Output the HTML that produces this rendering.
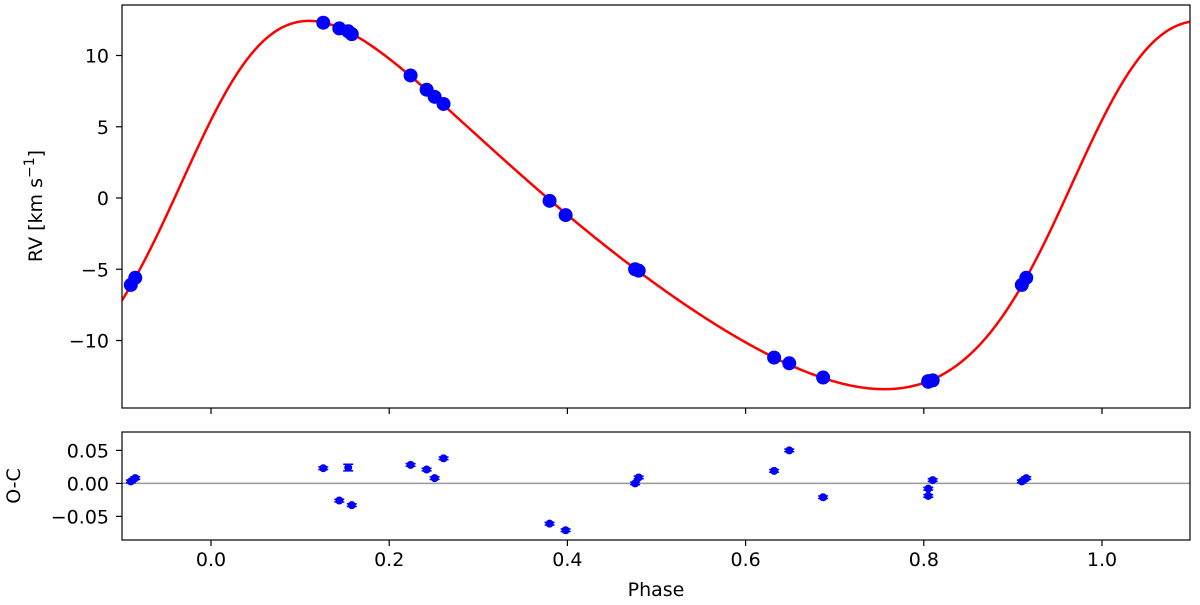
<!DOCTYPE html>
<html><head><meta charset="utf-8"><style>
body{margin:0;background:#fff}
svg text{font-family:"DejaVu Sans","Liberation Sans",sans-serif;fill:#000}
</style></head><body>
<svg id="chart" width="1200" height="600" xmlns="http://www.w3.org/2000/svg">
<g id="topPanel"></g>
<g id="botPanel"></g>
</svg>
<script>
const phases=[0.126,0.144,0.154,0.158,0.224,0.242,0.251,0.261,0.380,0.398,0.476,0.480,0.632,0.649,0.687,0.805,0.805,0.810,0.910,0.915];
const rvValues=[12.3,11.9,11.7,11.5,8.6,7.6,7.1,6.6,-0.2,-1.2,-5.0,-5.1,-11.2,-11.6,-12.6,-12.9,-12.85,-12.8,-6.1,-5.6];
const residPhases=[0.126,0.144,0.154,0.158,0.224,0.242,0.251,0.261,0.380,0.398,0.476,0.480,0.632,0.649,0.687,0.805,0.805,0.810,0.910,0.915];
const residuals=[0.023,-0.026,0.024,-0.033,0.028,0.021,0.008,0.038,-0.061,-0.071,0.000,0.009,0.019,0.050,-0.021,-0.008,-0.019,0.005,0.003,0.008];
const residErr=[0.002,0.002,0.005,0.002,0.002,0.002,0.002,0.002,0.002,0.002,0.002,0.002,0.002,0.002,0.002,0.002,0.002,0.002,0.002,0.002];
const xTicks=[0.0,0.2,0.4,0.6,0.8,1.0];
const xTickLabels=["0.0","0.2","0.4","0.6","0.8","1.0"];
const rvTicks=[10,5,0,-5,-10];
const rvTickLabels=["10","5","0","\u221210".slice(0,0)+"\u22125","\u221210"];
const resTicks=[0.05,0,-0.05];
const resTickLabels=["0.05","0.00","\u22120.05"];

const NS="http://www.w3.org/2000/svg";
const X0=122,X1=1190;
const xs=p=>211+p*891;
const ysTop=v=>198-v*14.25;
const ysBot=v=>483.4-v*660;
const TY0=5,TY1=408,BY0=432,BY1=540;
const FS=19;
function mk(par,tag,attrs){const e=document.createElementNS(NS,tag);for(const k in attrs)e.setAttribute(k,attrs[k]);par.appendChild(e);return e;}
const topG=document.getElementById('topPanel'),botG=document.getElementById('botPanel');

function shape(p,e,w,T){let M=2*Math.PI*(p-T);let E=M;for(let i=0;i<8;i++)E=E-(E-e*Math.sin(E)-M)/(1-e*Math.cos(E));
const nu=2*Math.atan2(Math.sqrt(1+e)*Math.sin(E/2),Math.sqrt(1-e)*Math.cos(E/2));return Math.cos(nu+w)+e*Math.cos(w);}
function fitLS(e,w,T){let n=phases.length,sf=0,sff=0,sy=0,sfy=0;const f=[];for(let i=0;i<n;i++){const s=shape(phases[i],e,w,T);f.push(s);sf+=s;sff+=s*s;sy+=rvValues[i];sfy+=s*rvValues[i];}
const d=n*sff-sf*sf;if(Math.abs(d)<1e-9)return null;const K=(n*sfy-sf*sy)/d,g=(sy-K*sf)/n;let r=0;for(let i=0;i<n;i++){const q=rvValues[i]-K*f[i]-g;r+=q*q;}return {K,g,r};}
let best={r:1e18,K:12.85,g:-1.28,e:0.22,w:285*Math.PI/180,T:0.97};
for(let e=0;e<=0.5;e+=0.025)for(let w=0;w<2*Math.PI;w+=Math.PI/30)for(let T=0;T<1;T+=0.01){const f=fitLS(e,w,T);if(f&&f.K>0&&f.r<best.r)best={r:f.r,K:f.K,g:f.g,e,w,T};}
let st=[0.0125,Math.PI/60,0.005];
for(let it=0;it<40;it++){let imp=false;for(const de of[-1,0,1])for(const dw of[-1,0,1])for(const dt of[-1,0,1]){const e=best.e+de*st[0],w=best.w+dw*st[1],T=best.T+dt*st[2];if(e<0||e>0.9)continue;const f=fitLS(e,w,T);if(f&&f.K>0&&f.r<best.r-1e-12){best={r:f.r,K:f.K,g:f.g,e,w,T};imp=true;}}if(!imp)st=st.map(s=>s/2);}

let d="";for(let i=0;i<=600;i++){const p=-0.1+1.2*i/600;const v=best.K*shape(p,best.e,best.w,best.T)+best.g;d+=(i?"L":"M")+xs(p).toFixed(2)+","+ysTop(v).toFixed(2);}
const cp=mk(topG,'clipPath',{id:'ct'});mk(cp,'rect',{x:X0,y:TY0,width:X1-X0,height:TY1-TY0});
const curve=mk(topG,'path',{d:d,fill:'none',stroke:'#ff0000','stroke-width':2.5,'clip-path':'url(#ct)'});


const ptsG=mk(topG,'g',{'clip-path':'url(#ct)'});
phases.forEach((p,i)=>{[p,p-1].forEach(pp=>{if(pp<-0.1||pp>1.1)return;const c=mk(ptsG,'circle',{cx:xs(pp),cy:ysTop(rvValues[i]),r:7,fill:'#0000ff'});

});});
const fr=mk(topG,'rect',{x:X0,y:TY0,width:X1-X0,height:TY1-TY0,fill:'none',stroke:'#000','stroke-width':1.2});


xTicks.forEach(t=>{mk(topG,'line',{x1:xs(t),x2:xs(t),y1:TY1,y2:TY1+6,stroke:'#000','stroke-width':1.2});});
rvTicks.forEach((t,i)=>{const y=ysTop(t);mk(topG,'line',{x1:X0-6,x2:X0,y1:y,y2:y,stroke:'#000','stroke-width':1.2});
const tx=mk(topG,'text',{x:X0-13,y:y+7,'text-anchor':'end','font-size':FS});tx.textContent=rvTickLabels[i];

});
const yl=mk(topG,'text',{transform:'translate(42,206) rotate(-90)','text-anchor':'middle','font-size':FS});
yl.innerHTML='RV [km s<tspan dy="-8" font-size="14">\u22121</tspan><tspan dy="8">]</tspan>';



const cb=mk(botG,'clipPath',{id:'cb'});mk(cb,'rect',{x:X0,y:BY0,width:X1-X0,height:BY1-BY0});
const zl=mk(botG,'line',{x1:X0,x2:X1,y1:ysBot(0),y2:ysBot(0),stroke:'#999','stroke-width':1.5});


const rg=mk(botG,'g',{'clip-path':'url(#cb)'});
residPhases.forEach((p,i)=>{[p,p-1].forEach(pp=>{if(pp<-0.1||pp>1.1)return;const x=xs(pp),y=ysBot(residuals[i]),e=residErr[i]*660;
mk(rg,'line',{x1:x,x2:x,y1:y-e,y2:y+e,stroke:'#0000ff','stroke-width':1.5});
mk(rg,'line',{x1:x-5,x2:x+5,y1:y-e,y2:y-e,stroke:'#0000ff','stroke-width':1.5});
mk(rg,'line',{x1:x-5,x2:x+5,y1:y+e,y2:y+e,stroke:'#0000ff','stroke-width':1.5});
const c=mk(rg,'circle',{cx:x,cy:y,r:4,fill:'#0000ff'});

});});
const fb=mk(botG,'rect',{x:X0,y:BY0,width:X1-X0,height:BY1-BY0,fill:'none',stroke:'#000','stroke-width':1.2});


xTicks.forEach((t,i)=>{const x=xs(t);mk(botG,'line',{x1:x,x2:x,y1:BY1,y2:BY1+6,stroke:'#000','stroke-width':1.2});
const tx=mk(botG,'text',{x:x,y:BY1+26,'text-anchor':'middle','font-size':FS});tx.textContent=xTickLabels[i];

});
resTicks.forEach((t,i)=>{const y=ysBot(t);mk(botG,'line',{x1:X0-6,x2:X0,y1:y,y2:y,stroke:'#000','stroke-width':1.2});
const tx=mk(botG,'text',{x:X0-13,y:y+7,'text-anchor':'end','font-size':FS});tx.textContent=resTickLabels[i];

});
const xl=mk(botG,'text',{x:656,y:596,'text-anchor':'middle','font-size':FS});xl.textContent='Phase';


const rl=mk(botG,'text',{transform:'translate(20,486) rotate(-90)','text-anchor':'middle','font-size':FS});rl.textContent='O-C';


</script>
</body></html>
